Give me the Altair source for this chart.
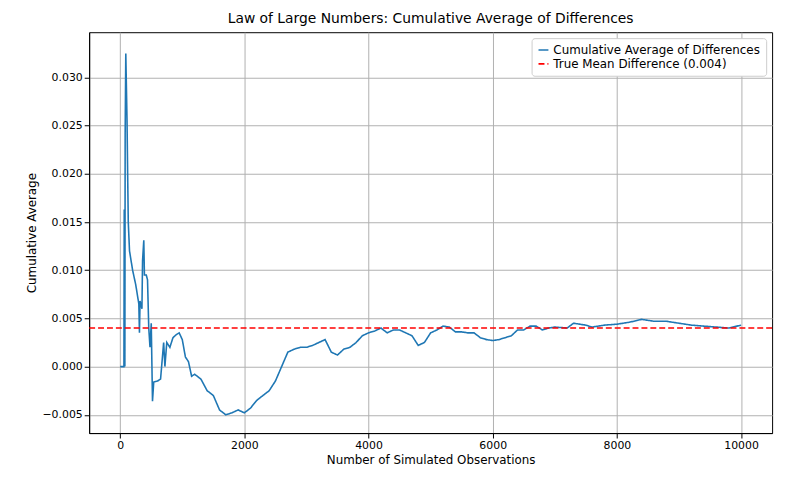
import altair as alt
import pandas as pd

obs = [0, 60, 65, 70, 75, 80, 90, 100, 110, 120, 130, 150, 200, 250, 300, 310, 320, 350, 360, 380, 390,
       420, 440, 460, 480, 500, 520, 540, 600, 650, 700, 720, 750, 800, 850, 900, 950, 1000, 1050, 1100,
       1150, 1200, 1300, 1400, 1500, 1600, 1700, 1800, 1900, 2000, 2100, 2200, 2300, 2400, 2500, 2600,
       2700, 2800, 2900, 3000, 3100, 3200, 3300, 3400, 3500, 3600, 3700, 3800, 3900, 4000, 4100, 4200,
       4300, 4400, 4500, 4600, 4700, 4800, 4900, 5000, 5100, 5200, 5300, 5400, 5500, 5600, 5700, 5800,
       5900, 6000, 6100, 6200, 6300, 6400, 6500, 6600, 6700, 6800, 6900, 7000, 7200, 7300, 7500, 7600,
       7800, 8000, 8200, 8400, 8600, 8800, 9000, 9200, 9400, 9600, 9800, 10000]
cum_avg = [0.0, 0.0, 0.0163, 0.012, 0.0, 0.0242, 0.0325, 0.029, 0.0255, 0.020, 0.015, 0.012, 0.010, 0.0085,
           0.0065, 0.0035, 0.0068, 0.006, 0.011, 0.0131, 0.0095, 0.0095, 0.009, 0.004, 0.002, 0.0045,
           -0.0036, -0.0016, -0.0015, -0.0013, 0.0025, 0.0, 0.0025, 0.002, 0.003, 0.0033, 0.0035, 0.0028,
           0.001, 0.0005, -0.001, -0.0008, -0.0013, -0.0025, -0.003, -0.0045, -0.005, -0.0048, -0.0045,
           -0.0048, -0.0043, -0.0035, -0.003, -0.0025, -0.0015, 0.0, 0.0015, 0.0018, 0.002, 0.002, 0.0022,
           0.0025, 0.0028, 0.0015, 0.0012, 0.0018, 0.002, 0.0025, 0.0032, 0.0035, 0.0037, 0.004, 0.0035,
           0.0038, 0.0038, 0.0035, 0.0032, 0.0022, 0.0025, 0.0035, 0.0038, 0.0042, 0.0041, 0.0036, 0.0036,
           0.0035, 0.0035, 0.003, 0.0028, 0.0027, 0.0028, 0.003, 0.0032, 0.0038, 0.0038, 0.0042, 0.0042,
           0.0038, 0.004, 0.0041, 0.004, 0.0045, 0.0043, 0.0041, 0.0043, 0.0044, 0.0046, 0.0049, 0.0047,
           0.0047, 0.0045, 0.0043, 0.0042, 0.0041, 0.004, 0.0043]
true_mean = 0.004

line_name = 'Cumulative Average of Differences'
rule_name = 'True Mean Difference (0.004)'

df = pd.DataFrame({'obs': obs, 'avg': cum_avg, 'series': line_name})
rule_df = pd.DataFrame({'y': [true_mean], 'series': [rule_name]})

color = alt.Color('series:N',
                  scale=alt.Scale(domain=[line_name, rule_name], range=['#1f77b4', 'red']),
                  legend=alt.Legend(orient='top-right', offset=6, title=None, symbolType='stroke',
                                    fillColor='white', strokeColor='#cccccc', padding=6,
                                    cornerRadius=3, labelFontSize=12, symbolStrokeWidth=1.6,
                                    labelLimit=0))
dash = alt.StrokeDash('series:N',
                      scale=alt.Scale(domain=[line_name, rule_name], range=[[1, 0], [6, 3]]),
                      legend=None)

line = alt.Chart(df).mark_line(strokeWidth=1.6).encode(
    x=alt.X('obs:Q', title='Number of Simulated Observations',
            scale=alt.Scale(domain=[-500, 10500], nice=False),
            axis=alt.Axis(values=[0, 2000, 4000, 6000, 8000, 10000], format='d')),
    y=alt.Y('avg:Q', title='Cumulative Average',
            scale=alt.Scale(domain=[-0.0069, 0.0347], nice=False, zero=False),
            axis=alt.Axis(values=[-0.005, 0, 0.005, 0.01, 0.015, 0.02, 0.025, 0.03], format='.3f')),
    color=color, strokeDash=dash
)

rule = alt.Chart(rule_df).mark_rule(strokeWidth=1.6).encode(
    y='y:Q', color=color, strokeDash=dash
)

chart = (line + rule).properties(
    width=690, height=405,
    autosize=alt.AutoSizeParams(type='none'),
    padding={'left': 82, 'top': 22, 'right': 10, 'bottom': 50},
    title=alt.TitleParams('Law of Large Numbers: Cumulative Average of Differences',
                          fontSize=14, fontWeight='normal', anchor='middle', offset=6)
).configure(font='DejaVu Sans').configure_axis(
    gridColor='#b0b0b0', domainColor='black', tickColor='black', labelColor='black',
    titleColor='black', titleFontWeight='normal', labelFontSize=11, titleFontSize=12
).configure_view(stroke='black')

chart.save("out.html", embed_options={"renderer": "svg", "actions": False})
